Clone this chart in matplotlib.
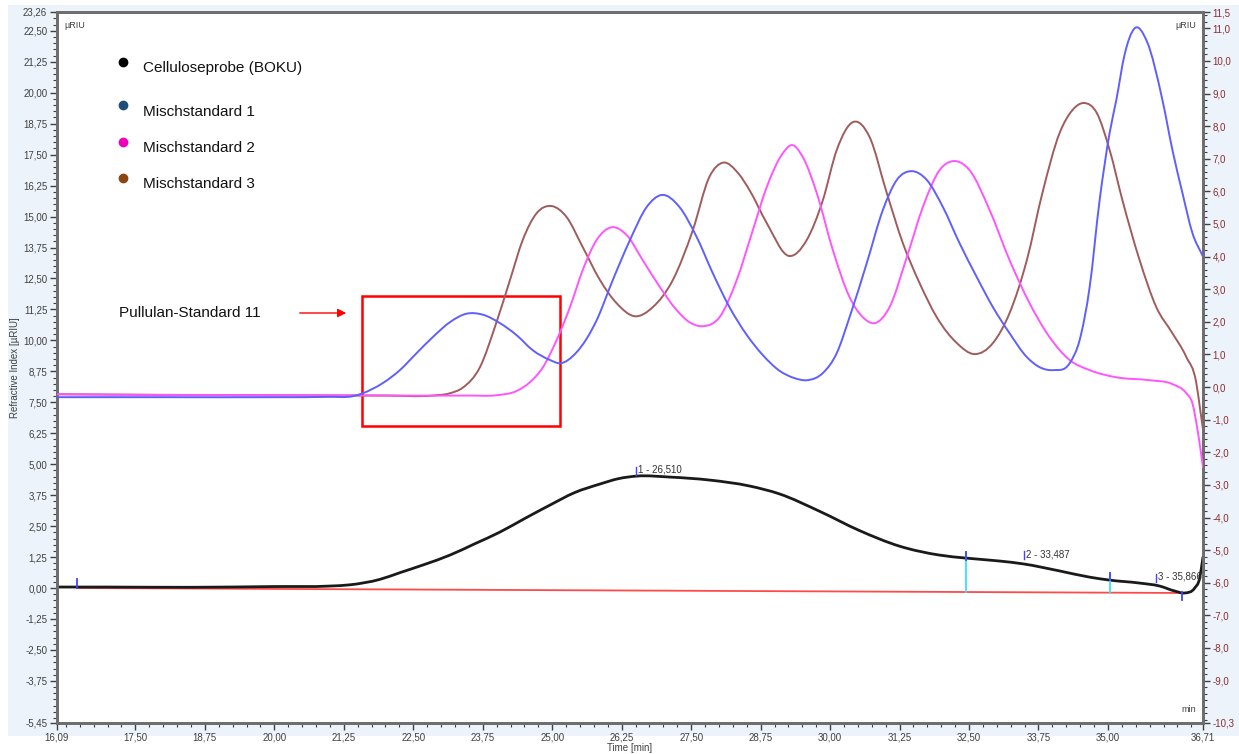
import numpy as np
import matplotlib
matplotlib.use("Agg")
import matplotlib.pyplot as plt
from matplotlib.patches import Rectangle, PathPatch, FancyArrowPatch
from matplotlib.lines import Line2D
from matplotlib.path import Path

plt.rcParams['font.family'] = ['Liberation Sans', 'DejaVu Sans']

# ---- sample trace (left axis, µRIU) ----
t_sample = [16.09, 17.0, 18.5, 20.0, 21.0, 21.36, 21.90, 22.26, 22.70, 23.16, 23.60,
            24.06, 24.50, 24.96, 25.40, 25.86, 26.20, 26.52, 27.12, 27.83, 28.55,
            29.09, 29.81, 30.53, 31.25, 31.97, 32.44, 33.05, 33.49, 34.13, 34.67,
            35.03, 35.57, 35.93, 36.20, 36.38, 36.56, 36.65, 36.71]
ri_sample = [0.04, 0.04, 0.03, 0.06, 0.08, 0.13, 0.35, 0.62, 0.95, 1.33, 1.78,
             2.26, 2.80, 3.35, 3.85, 4.20, 4.42, 4.52, 4.48, 4.36, 4.12,
             3.80, 3.10, 2.32, 1.69, 1.33, 1.21, 1.09, 0.97, 0.69, 0.44,
             0.32, 0.20, 0.08, -0.12, -0.20, 0.0, 0.4, 1.25]

# ---- mixed standards (right axis, µRIU) ----
t_std1 = [16.09, 18.0, 20.0, 21.0, 21.41, 21.59, 21.95, 22.26, 22.56, 22.85, 23.16,
          23.46, 23.75, 24.06, 24.36, 24.65, 24.96, 25.14, 25.44, 25.80, 26.09,
          26.40, 26.70, 26.97, 27.29, 27.60, 27.89, 28.19, 28.50, 28.79, 29.09,
          29.35, 29.58, 29.87, 30.12, 30.35, 30.66, 30.95, 31.20, 31.47, 31.74,
          32.03, 32.33, 32.64, 32.93, 33.23, 33.54, 33.77, 34.02, 34.31, 34.49,
          34.67, 34.85, 35.03, 35.15, 35.30, 35.48, 35.70, 35.98, 36.16, 36.34,
          36.52, 36.71]
ri_std1 = [-0.31, -0.31, -0.31, -0.30, -0.28, -0.19, 0.12, 0.52, 1.04, 1.53, 1.99,
           2.25, 2.22, 1.96, 1.59, 1.13, 0.83, 0.73, 1.07, 2.05, 3.28,
           4.51, 5.52, 5.89, 5.52, 4.60, 3.49, 2.45, 1.60, 0.98, 0.50,
           0.28, 0.21, 0.43, 1.04, 2.14, 3.80, 5.43, 6.35, 6.62, 6.35,
           5.52, 4.41, 3.37, 2.45, 1.65, 0.92, 0.61, 0.52, 0.73, 1.44,
           3.06, 5.73, 7.79, 8.80, 10.2, 11.0, 10.6, 8.80, 7.27, 5.95,
           4.72, 4.0]

t_std2 = [16.09, 18.0, 20.0, 22.0, 23.5, 24.0, 24.36, 24.60, 24.83, 25.08, 25.32,
          25.55, 25.80, 26.07, 26.34, 26.63, 26.94, 27.24, 27.47, 27.74, 28.01,
          28.32, 28.61, 28.86, 29.15, 29.31, 29.51, 29.76, 30.05, 30.35, 30.59,
          30.80, 31.07, 31.38, 31.67, 31.97, 32.22, 32.51, 32.87, 33.23, 33.59,
          33.95, 34.31, 34.67, 35.15, 35.75, 36.16, 36.41, 36.52, 36.62, 36.71]
ri_std2 = [-0.22, -0.24, -0.25, -0.26, -0.26, -0.25, -0.12, 0.15, 0.60, 1.44, 2.45,
           3.59, 4.51, 4.90, 4.66, 3.89, 3.06, 2.36, 1.99, 1.87, 2.14,
           3.28, 4.81, 6.13, 7.17, 7.42, 7.05, 5.95, 4.20, 2.76, 2.14,
           1.96, 2.45, 3.98, 5.52, 6.65, 6.93, 6.65, 5.43, 3.89, 2.57,
           1.53, 0.83, 0.52, 0.30, 0.21, 0.09, -0.19, -0.5, -1.4, -2.46]

t_std3 = [16.09, 18.0, 20.0, 22.0, 22.85, 23.16, 23.39, 23.70, 24.00, 24.24, 24.47,
          24.72, 24.99, 25.26, 25.55, 25.86, 26.16, 26.49, 26.81, 27.17, 27.53,
          27.83, 28.07, 28.35, 28.55, 28.86, 29.26, 29.58, 29.87, 30.12, 30.42,
          30.71, 31.02, 31.31, 31.61, 31.92, 32.28, 32.60, 32.93, 33.23, 33.54,
          33.82, 34.13, 34.36, 34.56, 34.80, 35.03, 35.26, 35.57, 35.87, 36.16,
          36.41, 36.59, 36.66, 36.71]
ri_std3 = [-0.22, -0.24, -0.25, -0.26, -0.26, -0.19, -0.02, 0.61, 2.00, 3.28, 4.51,
           5.33, 5.55, 5.21, 4.29, 3.28, 2.57, 2.17, 2.45, 3.28, 4.81,
           6.45, 6.88, 6.55, 6.04, 5.03, 4.02, 4.51, 5.73, 7.27, 8.13,
           7.67, 5.95, 4.41, 3.19, 2.14, 1.35, 1.01, 1.35, 2.27, 3.89,
           5.95, 7.79, 8.49, 8.71, 8.40, 7.27, 5.73, 3.89, 2.45, 1.65,
           0.92, 0.12, -0.70, -1.30]

# ---- integration of the sample trace ----
baseline_t = [16.45, 36.34]
baseline_ri = [0.0, -0.20]
peak_times = [26.510, 33.487, 35.866]
peak_labels = ["1 - 26,510", "2 - 33,487", "3 - 35,866"]
peak_label_ri = [4.62, 1.22, 0.30]
slice_t = [32.44, 35.03]
slice_top = [1.45, 0.62]

legend_names = ["Celluloseprobe (BOKU)", "Mischstandard 1", "Mischstandard 2", "Mischstandard 3"]
legend_colors = ["#000000", "#1f4e79", "#ee00bb", "#8b4513"]

x_ticks = [16.09, 17.50, 18.75, 20.00, 21.25, 22.50, 23.75, 25.00, 26.25, 27.50,
           28.75, 30.00, 31.25, 32.50, 33.75, 35.00, 36.71]
left_ticks = [23.26, 22.50, 21.25, 20.00, 18.75, 17.50, 16.25, 15.00, 13.75, 12.50,
              11.25, 10.00, 8.75, 7.50, 6.25, 5.00, 3.75, 2.50, 1.25, 0.00,
              -1.25, -2.50, -3.75, -5.45]
right_ticks = [11.5, 11.0, 10.0, 9.0, 8.0, 7.0, 6.0, 5.0, 4.0, 3.0, 2.0, 1.0, 0.0,
               -1.0, -2.0, -3.0, -4.0, -5.0, -6.0, -7.0, -8.0, -9.0, -10.3]

W, H = 1239, 754


def fx(px):
    return px / W


def fy(py):
    return 1 - py / H


def spline_path(x, y):
    """Cubic Bezier path through the given points (Catmull-Rom style tangents)."""
    x = np.asarray(x, float)
    y = np.asarray(y, float)
    h = np.diff(x)
    d = np.diff(y) / h
    m = np.zeros_like(y)
    m[0], m[-1] = d[0], d[-1]
    m[1:-1] = (d[:-1] * h[1:] + d[1:] * h[:-1]) / (h[:-1] + h[1:])
    verts = [(x[0], y[0])]
    codes = [Path.MOVETO]
    for i in range(len(x) - 1):
        verts += [(x[i] + h[i] / 3, y[i] + m[i] * h[i] / 3),
                  (x[i + 1] - h[i] / 3, y[i + 1] - m[i + 1] * h[i] / 3),
                  (x[i + 1], y[i + 1])]
        codes += [Path.CURVE4] * 3
    return Path(verts, codes)


def draw_trace(axis, x, y, color, lw, z):
    axis.add_patch(PathPatch(spline_path(x, y), facecolor="none",
                             edgecolor=color, lw=lw, zorder=z,
                             capstyle="round", joinstyle="round"))


fig = plt.figure(figsize=(W / 100, H / 100), dpi=100)
fig.patch.set_facecolor("white")
fig.add_artist(Rectangle((fx(8), fy(736)), fx(1239 - 8), 731 / H,
                         transform=fig.transFigure, facecolor="#edf3fb",
                         edgecolor="none", zorder=-10))

ax = fig.add_axes([fx(57), fy(723), fx(1203 - 57), (723 - 12) / H])
ax.set_facecolor("white")
ax.set_xlim(16.09, 36.71)
ax.set_ylim(-5.45, 23.26)
ax2 = ax.twinx()
ax2.set_ylim(-10.3, 11.5)

spine_c = "#6e6e6e"
for a in (ax, ax2):
    for s in a.spines.values():
        s.set_color(spine_c)
        s.set_linewidth(2)

# ticks
ax.set_xticks(x_ticks)
ax.set_xticklabels([f"{v:.2f}".replace(".", ",") for v in x_ticks])
ax.set_xticks(np.arange(16.25, 36.7, 0.25), minor=True)
ax.set_yticks(left_ticks)
ax.set_yticklabels([f"{v:.2f}".replace(".", ",") for v in left_ticks])
ax.set_yticks(np.arange(-5.25, 23.26, 0.25), minor=True)
ax2.set_yticks(right_ticks)
ax2.set_yticklabels([f"{v:.1f}".replace(".", ",") for v in right_ticks])
ax2.set_yticks(np.arange(-10.2, 11.5, 0.2), minor=True)

ax.tick_params(axis="both", which="major", labelsize=7, length=5, width=1,
               color="#404040", labelcolor="#404040", pad=2)
ax.tick_params(axis="both", which="minor", length=3, width=0.8, color="#404040")
ax2.tick_params(axis="y", which="major", labelsize=7, length=5, width=1,
                color="#404040", labelcolor="#8b2e2e", pad=2)
ax2.tick_params(axis="y", which="minor", length=3, width=0.8, color="#404040")

ax.set_xlabel("Time [min]", fontsize=7, color="#404040", labelpad=1)
ax.xaxis.set_label_coords(0.5, -0.028)
ax.set_ylabel("Refractive Index [µRIU]", fontsize=7, color="#404040", labelpad=2)

ax.text(0.006, 0.988, "µRIU", transform=ax.transAxes, fontsize=6.5,
        color="#404040", va="top", ha="left")
ax.text(0.994, 0.988, "µRIU", transform=ax.transAxes, fontsize=6.5,
        color="#404040", va="top", ha="right")
ax.text(0.994, 0.012, "min", transform=ax.transAxes, fontsize=6.5,
        color="#404040", va="bottom", ha="right")

# curves
draw_trace(ax2, t_std3, ri_std3, "#a05c5c", 1.4, 3)
draw_trace(ax2, t_std2, ri_std2, "#ff55ff", 1.4, 3)
draw_trace(ax2, t_std1, ri_std1, "#5f5fff", 1.4, 3)

ax.plot(baseline_t, baseline_ri, color="#ff4a4a", lw=1.3, zorder=2)
draw_trace(ax, t_sample, ri_sample, "#1a1a1a", 2.0, 3)

# integration slices and markers
for st, top in zip(slice_t, slice_top):
    base = np.interp(st, baseline_t, baseline_ri)
    ax.plot([st, st], [base, top], color="#33e5f0", lw=1.3, zorder=4)
    ax.plot([st, st], [top - 0.3, top], color="#4444ff", lw=1.3, zorder=5)
ax.plot([baseline_t[0]] * 2, [0.0, 0.35], color="#4444ff", lw=1.3, zorder=5)
ax.plot([baseline_t[1]] * 2, [-0.48, -0.18], color="#4444ff", lw=1.3, zorder=5)

for pt, lab, y in zip(peak_times, peak_labels, peak_label_ri):
    ax.plot([pt, pt], [y - 0.05, y + 0.28], color="#4444ff", lw=1.0, zorder=5)
    ax.text(pt + 0.04, y - 0.05, lab, fontsize=7, color="#333333",
            va="bottom", ha="left", clip_on=True, zorder=6)

# legend
legend_y = [62, 105, 142, 178]
text_y = [68, 112, 148, 184]
for name, c, dy, ty in zip(legend_names, legend_colors, legend_y, text_y):
    fig.add_artist(Line2D([fx(123)], [fy(dy)], marker="o", ms=6, color=c,
                          transform=fig.transFigure, linestyle="none"))
    fig.text(fx(143), fy(ty), name, fontsize=11, color="#111111",
             va="center", ha="left")

# highlighted region for Pullulan standard 11
ax.add_patch(Rectangle((21.58, 6.54), 25.14 - 21.58, 11.79 - 6.54, fill=False,
                       edgecolor="#ff0000", lw=1.8, zorder=7))
fig.text(fx(119), fy(313), "Pullulan-Standard 11", fontsize=11, color="#111111",
         va="center", ha="left")
fig.add_artist(FancyArrowPatch(
    (fx(297), fy(313)), (fx(349), fy(313)), transform=fig.transFigure,
    arrowstyle="-|>,head_length=5,head_width=2.5", color="#ff0000", lw=1.0))

fig.savefig("out.png", dpi=100, facecolor=fig.get_facecolor())
